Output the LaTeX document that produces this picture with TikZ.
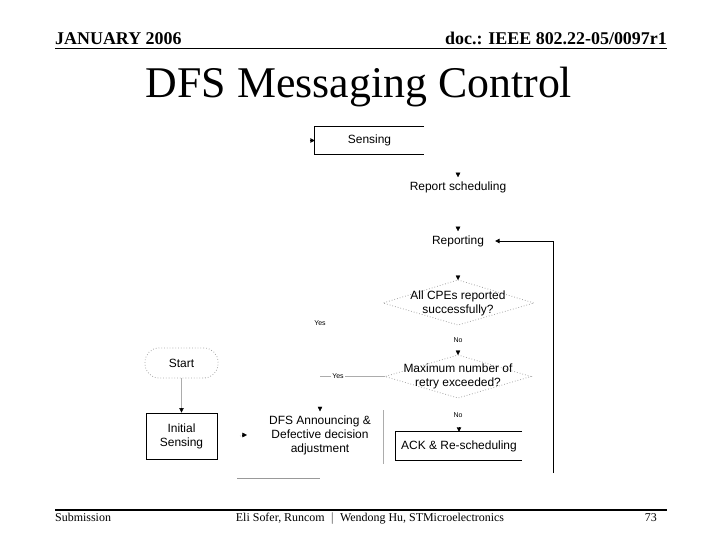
\documentclass[tikz,border=0pt]{standalone}
\usepackage{fontspec}
\setmainfont{Liberation Serif}
\setsansfont{Liberation Sans}
\usetikzlibrary{arrows.meta,calc}
\tikzset{
  diag/.style={font=\sffamily\fontsize{12}{14}\selectfont, align=center, inner sep=1bp},
  small/.style={font=\sffamily\fontsize{7}{8}\selectfont, inner sep=1bp},
  boxline/.style={draw=black, line width=0.8bp},
  conn/.style={draw=gray!65, line width=0.7bp},
  dotbox/.style={draw=gray!70, dotted, line width=0.8bp},
  tip/.style={-{Triangle[length=4.5bp,width=4.5bp]}},
  gaptip/.style={tip, shorten >=3bp},
}
\begin{document}
\begin{tikzpicture}[x=1bp,y=-1bp]
\useasboundingbox (0,0) rectangle (720,540);
% header
\node[anchor=base west, inner sep=0, font=\bfseries\fontsize{18}{20}\selectfont] (hdl) at (55,45) {JANUARY 2006};
\node[anchor=base east, inner sep=0, font=\bfseries\fontsize{18}{20}\selectfont] (hdr) at (667,45) {doc.: IEEE 802.22-05/0097r1};
\draw[line width=1.8bp] (55,48.5) coordinate (h1) -- (667,48.5) coordinate (h2);
\node[anchor=base, inner sep=0, font=\fontsize{44}{48}\selectfont] (title) at (359,98) {DFS Messaging Control};
% footer
\draw[line width=1.8bp] (55,510) coordinate (f1) -- (667,510) coordinate (f2);
\node[anchor=base west, inner sep=0, font=\fontsize{12}{14}\selectfont] (fl) at (55,521) {Submission};
\node[anchor=base, inner sep=0, font=\fontsize{12}{14}\selectfont] (fc) at (370,521) {Eli Sofer, Runcom \ $|$ \ Wendong Hu, STMicroelectronics};
\node[anchor=base east, inner sep=0, font=\fontsize{12}{14}\selectfont] (fr) at (657,521) {73};

% Sensing
\node[diag, minimum width=109bp, minimum height=27bp] (sensing) at (369.5,140.5) {Sensing};
\draw[boxline] (sensing.north east) -- (sensing.north west) -- (sensing.south west) -- (sensing.south east);
\coordinate (sin) at ($(sensing.west)+(-5,0)$);
\draw[tip] (sin) -- (sensing.west);

% Report scheduling
\node[diag] (rs) at (458,187) {Report scheduling};
\coordinate (a1) at ($(rs.north)+(0,-7.5)$);
\draw[gaptip] (a1) -- (rs.north);

% Reporting
\node[diag] (rep) at (458,241) {Reporting};
\coordinate (a2) at ($(rep.north)+(0,-7.5)$);
\draw[gaptip] (a2) -- (rep.north);
\coordinate (rb) at (553,473);
\coordinate (rc) at (553,241);
\draw[line width=0.9bp, tip, shorten >=10bp] (rb) -- (rc) -- (rep.east);

% Diamond 1
\coordinate (d1t) at (458,280);
\coordinate (d1r) at (534,303);
\coordinate (d1b) at (458,325);
\coordinate (d1l) at (383,303);
\draw[dotbox] (d1t) -- (d1r) -- (d1b) -- (d1l) -- cycle;
\node[diag] (d1) at (458,303) {All CPEs reported\\successfully?};
\coordinate (a3) at ($(d1t)+(0,-4.5)$);
\draw[tip] (a3) -- (d1t);
\node[small] (yes1) at (320,323) {Yes};
\node[small] (no1) at (458,340) {No};

% Diamond 2
\coordinate (d2t) at (458,355);
\coordinate (d2r) at (531,376.5);
\coordinate (d2b) at (458,398);
\coordinate (d2l) at (385,376.5);
\draw[dotbox] (d2t) -- (d2r) -- (d2b) -- (d2l) -- cycle;
\node[diag] (d2) at (458,376.5) {Maximum number of\\retry exceeded?};
\coordinate (a4) at ($(d2t)+(0,-4.5)$);
\draw[tip] (a4) -- (d2t);
\coordinate (y2l) at (320,376.5);
\draw[conn] (y2l) -- (d2l);
\node[small, fill=white] (yes2) at (338,376.5) {Yes};

% Start
\node[diag, dotbox, rounded corners=14bp, minimum width=73bp, minimum height=30bp] (start) at (181.5,363) {Start};
% Initial sensing
\node[diag, boxline, minimum width=71bp, minimum height=46bp] (init) at (181.5,436) {Initial\\Sensing};
\draw[conn] (start.south) -- ($(init.north)+(0,-4.5)$) coordinate (a5);
\draw[tip] (a5) -- (init.north);

% DFS announcing
\node[diag] (dfs) at (320,435) {DFS Announcing \&\\Defective decision\\adjustment};
\coordinate (a6) at ($(dfs.north)+(0,-7.5)$);
\draw[gaptip] (a6) -- (dfs.north);
\coordinate (da) at (240,436);
\draw[draw=gray!50, dotted, line width=0.8bp, shorten >=22bp] (da) -- (dfs.west);
\draw[tip, shorten >=21bp] ($(dfs.west)+(-25.5,0)$) coordinate (db) -- (dfs.west);
\coordinate (v1) at (383,410);
\coordinate (v2) at (383,464);
\draw[conn] (v1) -- (v2);
\coordinate (b1) at (237,478);
\coordinate (b2) at (320,478);
\draw[conn, draw=gray!80] (b1) -- (b2);

% ACK
\node[small] (no2) at (458,415) {No};
\node[diag, minimum width=126bp, minimum height=28bp] (ack) at (459,446) {ACK \& Re-scheduling};
\draw[boxline] (ack.north east) -- (ack.north west) -- (ack.south west) -- (ack.south east);
\coordinate (a7) at ($(ack.north)+(0,-4.5)$);
\draw[tip] (a7) -- (ack.north);
\end{tikzpicture}
\end{document}
